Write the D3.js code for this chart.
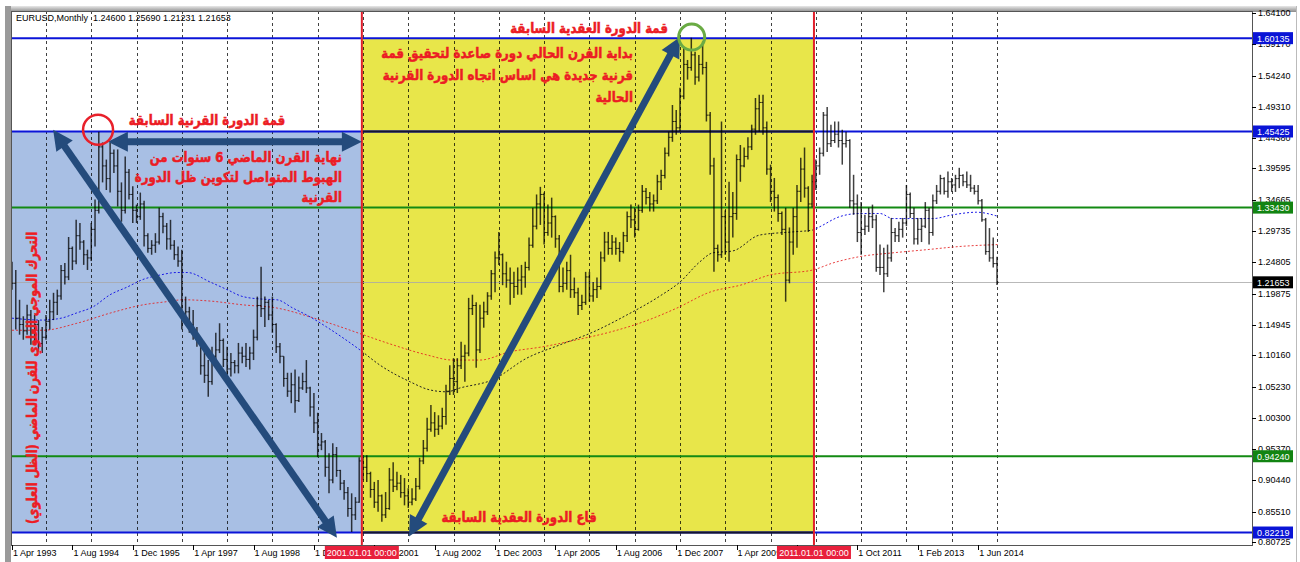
<!DOCTYPE html>
<html lang="ar">
<head>
<meta charset="utf-8">
<title>EURUSD Monthly</title>
<script src="https://d3js.org/d3.v7.min.js"></script>
<style>
    body { margin: 0; background: #fff; }
    svg { display: block; }
    .ar { font-family: "DejaVu Sans", sans-serif; font-weight: bold; fill: #ec1c24; stroke: #ec1c24; stroke-width: 0.55; }
    .small { font-family: "Liberation Sans", Arial, sans-serif; font-size: 9px; fill: #000; }
</style>
</head>
<body>
<div id="divChart"></div>
<script>

// ---- data (monthly bars, index 0 = Apr 1993) ----
const firstOpen = 1.235;
const closes = [
 1.215,1.160,1.150,1.140,1.165,1.130,1.150,1.120,1.130,1.155,
 1.170,1.185,1.195,1.235,1.225,1.270,1.250,1.290,1.280,1.260,
 1.255,1.300,1.330,1.430,1.400,1.380,1.420,1.400,1.360,1.330,
 1.390,1.355,1.330,1.320,1.340,1.290,1.270,1.275,1.280,1.320,
 1.305,1.285,1.275,1.260,1.250,1.160,1.170,1.150,1.140,1.125,
 1.085,1.070,1.060,1.100,1.110,1.125,1.095,1.080,1.090,1.085,
 1.105,1.100,1.095,1.105,1.130,1.180,1.175,1.185,1.165,1.150,
 1.115,1.100,1.065,1.045,1.055,1.030,1.050,1.060,1.050,1.020,
 0.995,0.960,0.965,0.925,0.905,0.945,0.920,0.900,0.885,0.860,
 0.850,0.870,0.935,0.925,0.915,0.890,0.870,0.880,0.850,0.860,
 0.905,0.895,0.900,0.885,0.880,0.870,0.875,0.895,0.935,0.955,
 0.985,0.995,0.985,0.990,1.005,1.045,1.065,1.060,1.085,1.100,
 1.105,1.175,1.180,1.110,1.160,1.170,1.195,1.230,1.255,1.260,
 1.230,1.220,1.215,1.210,1.220,1.225,1.240,1.275,1.305,1.340,
 1.355,1.295,1.310,1.320,1.285,1.210,1.215,1.235,1.205,1.200,
 1.180,1.185,1.225,1.195,1.205,1.210,1.255,1.280,1.270,1.280,
 1.270,1.265,1.290,1.320,1.315,1.300,1.330,1.360,1.350,1.340,
 1.345,1.375,1.385,1.420,1.445,1.470,1.460,1.510,1.560,1.555,
 1.575,1.540,1.560,1.555,1.480,1.400,1.270,1.260,1.320,1.280,
 1.320,1.325,1.410,1.400,1.415,1.430,1.458,1.490,1.500,1.460,
 1.395,1.360,1.350,1.325,1.300,1.220,1.280,1.320,1.360,1.395,
 1.365,1.340,1.375,1.400,1.420,1.480,1.435,1.440,1.450,1.440,
 1.435,1.440,1.345,1.340,1.295,1.300,1.305,1.320,1.315,1.240,
 1.240,1.230,1.255,1.295,1.290,1.300,1.310,1.355,1.325,1.285,
 1.300,1.305,1.330,1.295,1.345,1.360,1.380,1.360,1.375,1.370,
 1.380,1.385,1.375,1.370,1.365,1.360,1.345,1.315,1.265,1.255,
 1.246,1.21653];
const highs = [
 1.249,1.236,1.189,1.163,1.181,1.173,1.165,1.157,1.146,1.165,
 1.189,1.200,1.205,1.244,1.247,1.288,1.273,1.315,1.310,1.283,
 1.268,1.310,1.347,1.454,1.437,1.410,1.437,1.426,1.426,1.374,
 1.415,1.395,1.368,1.339,1.358,1.345,1.294,1.283,1.294,1.334,
 1.326,1.310,1.315,1.283,1.273,1.268,1.194,1.178,1.173,1.146,
 1.128,1.110,1.094,1.115,1.137,1.152,1.128,1.115,1.105,1.094,
 1.121,1.115,1.121,1.115,1.142,1.194,1.241,1.194,1.189,1.194,
 1.152,1.121,1.100,1.074,1.074,1.079,1.068,1.074,1.094,1.052,
 1.042,1.011,0.979,0.968,0.947,0.963,0.957,0.921,0.905,0.894,
 0.884,0.878,0.941,0.944,0.944,0.918,0.902,0.905,0.882,0.886,
 0.924,0.933,0.918,0.913,0.908,0.892,0.892,0.908,0.940,0.968,
 1.003,1.023,1.012,1.007,1.019,1.055,1.086,1.097,1.097,1.123,
 1.118,1.192,1.197,1.185,1.181,1.186,1.201,1.236,1.265,1.296,
 1.262,1.249,1.240,1.233,1.240,1.244,1.249,1.287,1.334,1.355,
 1.367,1.358,1.339,1.350,1.322,1.291,1.240,1.249,1.260,1.224,
 1.208,1.197,1.233,1.233,1.217,1.224,1.265,1.296,1.296,1.291,
 1.287,1.280,1.296,1.328,1.339,1.334,1.339,1.370,1.365,1.359,
 1.355,1.386,1.394,1.429,1.454,1.496,1.488,1.523,1.586,1.567,
 1.602,1.580,1.575,1.596,1.564,1.485,1.413,1.276,1.470,1.330,
 1.375,1.359,1.418,1.433,1.429,1.445,1.465,1.507,1.512,1.512,
 1.470,1.402,1.381,1.355,1.328,1.334,1.303,1.334,1.370,1.413,
 1.429,1.368,1.386,1.410,1.429,1.485,1.493,1.465,1.470,1.470,
 1.457,1.454,1.442,1.386,1.355,1.343,1.323,1.334,1.339,1.323,
 1.276,1.271,1.276,1.318,1.302,1.312,1.318,1.370,1.358,1.334,
 1.318,1.318,1.343,1.334,1.355,1.370,1.386,1.382,1.391,1.381,
 1.386,1.397,1.387,1.391,1.386,1.370,1.370,1.348,1.318,1.302,
 1.287,1.2569];
const lows = [
 1.205,1.142,1.134,1.126,1.134,1.118,1.118,1.107,1.105,1.126,
 1.142,1.157,1.165,1.189,1.213,1.220,1.236,1.245,1.268,1.244,
 1.236,1.250,1.273,1.325,1.374,1.362,1.358,1.389,1.336,1.312,
 1.325,1.347,1.310,1.310,1.315,1.273,1.263,1.260,1.263,1.276,
 1.294,1.268,1.268,1.252,1.241,1.142,1.155,1.137,1.126,1.115,
 1.071,1.058,1.036,1.055,1.094,1.105,1.083,1.068,1.068,1.073,
 1.073,1.089,1.083,1.079,1.094,1.125,1.162,1.146,1.157,1.137,
 1.105,1.089,1.052,1.036,1.026,1.011,1.028,1.047,1.042,1.005,
 0.979,0.941,0.952,0.910,0.884,0.900,0.910,0.889,0.874,0.847,
 0.823,0.842,0.869,0.905,0.902,0.877,0.861,0.855,0.839,0.845,
 0.858,0.886,0.889,0.877,0.865,0.861,0.865,0.872,0.890,0.930,
 0.950,0.981,0.973,0.976,0.985,0.992,1.039,1.039,1.042,1.080,
 1.060,1.100,1.165,1.082,1.105,1.145,1.165,1.189,1.201,1.244,
 1.212,1.208,1.181,1.192,1.197,1.197,1.208,1.235,1.271,1.300,
 1.307,1.276,1.290,1.287,1.271,1.201,1.201,1.205,1.192,1.192,
 1.165,1.173,1.181,1.186,1.186,1.192,1.205,1.249,1.260,1.260,
 1.260,1.249,1.262,1.280,1.302,1.287,1.298,1.326,1.339,1.328,
 1.328,1.340,1.362,1.380,1.415,1.438,1.449,1.455,1.505,1.536,
 1.550,1.528,1.533,1.544,1.470,1.386,1.233,1.249,1.255,1.260,
 1.249,1.287,1.315,1.375,1.398,1.410,1.425,1.449,1.454,1.449,
 1.386,1.343,1.328,1.312,1.291,1.186,1.215,1.260,1.271,1.343,
 1.350,1.296,1.335,1.362,1.386,1.415,1.422,1.430,1.436,1.429,
 1.402,1.429,1.334,1.323,1.280,1.260,1.291,1.296,1.302,1.233,
 1.228,1.201,1.225,1.249,1.280,1.280,1.287,1.305,1.318,1.276,
 1.276,1.280,1.302,1.276,1.290,1.340,1.355,1.355,1.350,1.359,
 1.359,1.365,1.368,1.365,1.359,1.355,1.339,1.312,1.260,1.249,
 1.240,1.21231];

// moving averages, read as [bar index, price]
const maBlue = [[0,1.160],[8,1.157],[13,1.160],[17,1.168],[21.5,1.178],[26,1.197],[30.5,1.209],
 [34.7,1.221],[39.2,1.228],[43.7,1.232],[46.4,1.232],[52.5,1.217],[57,1.205],[61.2,1.194],
 [66.5,1.190],[70.2,1.189],[74.4,1.176],[79,1.162],[83.4,1.146],[87.7,1.129],[92.2,1.110],
 [97.5,1.086],[105.4,1.060],[110.7,1.047],[115.2,1.044],[118.7,1.050],[127.4,1.063],
 [136.4,1.097],[145.2,1.118],[153.9,1.138],[162.9,1.165],[171.7,1.195],[177,1.217],
 [182.3,1.249],[185.7,1.263],[191,1.266],[198.1,1.291],[206.9,1.296],[212.2,1.299],
 [214,1.304],[219.3,1.320],[224.6,1.325],[230,1.325],[233.4,1.317],[244,1.317],
 [249.3,1.323],[255.6,1.327],[261,1.321]];
const maRed = [[0,1.141],[8.2,1.141],[17.2,1.152],[26,1.168],[34.7,1.181],[41,1.186],[45.3,1.189],
 [52.5,1.187],[61.2,1.181],[70.2,1.176],[79,1.162],[87.7,1.145],[93,1.134],[100.9,1.118],
 [110,1.102],[116.8,1.094],[124,1.094],[131.9,1.107],[140.7,1.115],[149.7,1.126],
 [158.4,1.138],[167.2,1.154],[176.2,1.176],[184.9,1.201],[193.6,1.213],[200.8,1.228],
 [212.2,1.236],[217.5,1.247],[224.6,1.257],[233.4,1.263],[242.4,1.268],[251.1,1.273],
 [261.2,1.276]];

// horizontal levels and their axis tags
const levelPrices = [1.60135, 1.45425, 1.33430, 0.94240, 0.82219];
const levelKinds  = ["blue", "blue", "green", "green", "blue"];
const lastPrice = 1.21653;

// vertical lines (bar index) and their date tags
const vlineIdx = [92.7, 212.5];
const vlineLabels = ["2001.01.01 00:00", "2011.01.01 00:00"];

// axis ticks (the Aug 2010 label sits fully under the red date tag, so it is blank)
const priceTicks = [1.64100,1.59170,1.54240,1.49310,1.44380,1.39595,1.34665,1.29735,1.24805,
 1.19875,1.14945,1.10160,1.05230,1.00300,0.95370,0.90440,0.85510,0.80725];
const xTickIdx = [0,16,32,48,64,80,96,112,128,144,160,176,192,208,224,240,256];
const xTickLabels = ["1 Apr 1993","1 Aug 1994","1 Dec 1995","1 Apr 1997","1 Aug 1998","1 Dec 1999",
 "1 Apr 2001","1 Aug 2002","1 Dec 2003","1 Apr 2005","1 Aug 2006","1 Dec 2007","1 Apr 2009",
 "","1 Oct 2011","1 Feb 2013","1 Jun 2014"];
const gridIdx = d3.range(9, 262, 12);

// annotations: arrows [i1, p1, i2, p2], circles [i, p]
const arrows = [[10.9, 1.457, 86.1, 0.814], [25.4, 1.438, 92.7, 1.438], [105.2, 0.816, 177, 1.603]];
const redCircle = [22.8, 1.457];
const greenCircle = [180.1, 1.603];
const header = "EURUSD,Monthly  1.24600 1.25690 1.21231 1.21653";

// ---- layout ----
const W = 1300, H = 562;
const plot = {l: 11, t: 11, r: 1252, b: 545};
const x = d3.scaleLinear().domain([0, 261]).range([12, 997]);
const y = d3.scaleLinear().domain([0.80725, 1.64100]).range([542, 13]);

const svg = d3.select("#divChart").append("svg").attr("width", W).attr("height", H);
const defs = svg.append("defs");
defs.append("clipPath").attr("id", "clipPlot").append("rect")
    .attr("x", plot.l).attr("y", plot.t).attr("width", plot.r - plot.l).attr("height", plot.b - plot.t);
defs.append("clipPath").attr("id", "clipYellow").append("rect")
    .attr("x", x(vlineIdx[0])).attr("y", 0).attr("width", x(vlineIdx[1]) - x(vlineIdx[0])).attr("height", H);
defs.append("clipPath").attr("id", "clipNotYellow").append("path")
    .attr("d", `M0,0H${x(vlineIdx[0])}V${H}H0Z M${x(vlineIdx[1])},0H${W}V${H}H${x(vlineIdx[1])}Z`);
const grad = defs.append("linearGradient").attr("id", "frameTop").attr("x1", 0).attr("x2", 0).attr("y1", 0).attr("y2", 1);
grad.append("stop").attr("offset", 0).attr("stop-color", "#e8e8e8");
grad.append("stop").attr("offset", 1).attr("stop-color", "#8a8a8a");

// window frame
svg.append("rect").attr("x", 5).attr("y", 6).attr("width", 1291).attr("height", 6).attr("fill", "url(#frameTop)");
svg.append("rect").attr("x", 5).attr("y", 6).attr("width", 6).attr("height", H - 6).attr("fill", "#9a9a9a");
svg.append("line").attr("x1", 1296.5).attr("x2", 1296.5).attr("y1", 6).attr("y2", H).attr("stroke", "#bbb");

const g = svg.append("g").attr("clip-path", "url(#clipPlot)");

// shaded zones
g.append("rect")
    .attr("x", plot.l).attr("width", x(vlineIdx[0]) - plot.l)
    .attr("y", y(levelPrices[1])).attr("height", y(levelPrices[4]) - y(levelPrices[1]))
    .attr("fill", "#a8bfe4");
g.append("rect")
    .attr("x", x(vlineIdx[0])).attr("width", x(vlineIdx[1]) - x(vlineIdx[0]))
    .attr("y", y(levelPrices[0])).attr("height", y(levelPrices[4]) - y(levelPrices[0]) + 1)
    .attr("fill", "#e8e64a");

// grid
g.selectAll(".grid").data(gridIdx).enter().append("line")
    .attr("x1", d => Math.round(x(d)) + 0.5).attr("x2", d => Math.round(x(d)) + 0.5)
    .attr("y1", plot.t).attr("y2", plot.b)
    .attr("stroke", "#000").attr("stroke-opacity", 0.75).attr("stroke-dasharray", "3,3");

// current price line
g.append("line").attr("x1", plot.l).attr("x2", plot.r)
    .attr("y1", Math.round(y(lastPrice)) + 0.5).attr("y2", Math.round(y(lastPrice)) + 0.5)
    .attr("stroke", "#a8a8a8").attr("stroke-opacity", 0.8);

// horizontal levels
const lvlColor = {blue: "#0b14d8", green: "#138a13"};
levelPrices.forEach((p, k) => {
    g.append("line").attr("x1", plot.l).attr("x2", plot.r).attr("y1", y(p)).attr("y2", y(p))
        .attr("stroke", lvlColor[levelKinds[k]]).attr("stroke-width", 2);
    if (levelKinds[k] == "blue" && k > 0) {
        g.append("line").attr("x1", x(vlineIdx[0])).attr("x2", x(vlineIdx[1])).attr("y1", y(p)).attr("y2", y(p))
            .attr("stroke", "#141432").attr("stroke-width", 2);
    }
});

// moving averages
const maLine = d3.line().x(d => x(d[0])).y(d => y(d[1])).curve(d3.curveMonotoneX);
g.append("path").attr("d", maLine(maRed)).attr("fill", "none")
    .attr("stroke", "#e41e1e").attr("stroke-width", 1).attr("stroke-dasharray", "2,2").attr("stroke-opacity", 0.85);
g.append("g").attr("clip-path", "url(#clipNotYellow)").append("path").attr("d", maLine(maBlue))
    .attr("fill", "none").attr("stroke", "#1a1ae6").attr("stroke-width", 1).attr("stroke-dasharray", "2,2");
g.append("g").attr("clip-path", "url(#clipYellow)").append("path").attr("d", maLine(maBlue))
    .attr("fill", "none").attr("stroke", "#222").attr("stroke-width", 1).attr("stroke-dasharray", "2,2");

// OHLC bars
const bars = closes.map((c, i) => ({i: i, o: i == 0 ? firstOpen : closes[i - 1], h: highs[i], l: lows[i], c: c}));
const bg = g.append("g").attr("stroke", "#000").attr("stroke-opacity", 0.75).attr("stroke-width", 1.5);
bars.forEach(d => {
    const cx = x(d.i);
    bg.append("line").attr("x1", cx).attr("x2", cx).attr("y1", y(d.h)).attr("y2", y(d.l));
    bg.append("line").attr("x1", cx - 1.8).attr("x2", cx).attr("y1", y(d.o)).attr("y2", y(d.o)).attr("stroke-width", 1);
    bg.append("line").attr("x1", cx).attr("x2", cx + 1.8).attr("y1", y(d.c)).attr("y2", y(d.c)).attr("stroke-width", 1);
});

// red vertical lines
vlineIdx.forEach(v => {
    g.append("line").attr("x1", x(v)).attr("x2", x(v)).attr("y1", plot.t).attr("y2", plot.b)
        .attr("stroke", "#e0202c").attr("stroke-width", 2);
});

// arrows
const arrowColor = "#244b7c";
function arrow(a) {
    const x1 = x(a[0]), y1 = y(a[1]), x2 = x(a[2]), y2 = y(a[3]);
    const len = Math.hypot(x2 - x1, y2 - y1), ux = (x2 - x1) / len, uy = (y2 - y1) / len;
    const hl = 20, hw = 10;
    g.append("line").attr("x1", x1 + ux * hl * 0.8).attr("y1", y1 + uy * hl * 0.8)
        .attr("x2", x2 - ux * hl * 0.8).attr("y2", y2 - uy * hl * 0.8)
        .attr("stroke", arrowColor).attr("stroke-width", 7);
    [[x2, y2, 1], [x1, y1, -1]].forEach(t => {
        const bx = t[0] - ux * hl * t[2], by = t[1] - uy * hl * t[2];
        g.append("path")
            .attr("d", `M${t[0]},${t[1]}L${bx - uy * hw},${by + ux * hw}L${bx + uy * hw},${by - ux * hw}Z`)
            .attr("fill", arrowColor);
    });
}
arrows.forEach(arrow);

// circles
g.append("circle").attr("cx", x(redCircle[0])).attr("cy", y(redCircle[1])).attr("r", 15)
    .attr("fill", "none").attr("stroke", "#e8202a").attr("stroke-width", 2.5);
g.append("circle").attr("cx", x(greenCircle[0])).attr("cy", y(greenCircle[1])).attr("r", 13)
    .attr("fill", "none").attr("stroke", "#6aab44").attr("stroke-width", 3);

// arabic notes; DejaVu is wide, so squeeze it horizontally
const sqz = 0.84;
function note(lines, xr, y0, dy, anchor) {
    lines.forEach((t, k) => {
        svg.append("g").attr("transform", `translate(${xr},${y0 + k * dy}) scale(${sqz},1)`)
            .append("text").attr("class", "ar").attr("direction", "rtl")
            .attr("font-size", 14).attr("text-anchor", anchor).text(t);
    });
}
note(["قمة الدورة القرنية السابقة"], 207, 125, 0, "middle");
note(["نهاية القرن الماضي 6 سنوات من", "الهبوط المتواصل لتكوين ظل الدورة", "القرنية"], 342, 162, 20, "start");
note(["قمة الدورة العقدية السابقة"], 589, 33, 0, "middle");
note(["بداية القرن الحالي دورة صاعدة لتحقيق قمة", "قرنية جديدة هي اساس اتجاه الدورة القرنية", "الحالية"], 633, 58, 22, "start");
note(["قاع الدورة العقدية السابقة"], 519, 522, 0, "middle");
svg.append("g").attr("transform", `translate(32,378) rotate(-90) scale(${sqz * 0.96},1)`)
    .append("text").attr("class", "ar").attr("direction", "rtl").attr("font-size", 14)
    .attr("text-anchor", "middle").attr("dominant-baseline", "central")
    .text("التحرك الموجي العلوي للقرن الماضي (الظل العلوي)");

// header
svg.append("text").attr("class", "small").attr("x", 16).attr("y", 21).attr("xml:space", "preserve").text(header);

// frame
svg.append("rect").attr("x", plot.l + 0.5).attr("y", plot.t + 0.5)
    .attr("width", plot.r - plot.l).attr("height", plot.b - plot.t)
    .attr("fill", "none").attr("stroke", "#555");

// price axis
const pa = svg.append("g");
priceTicks.forEach(p => {
    pa.append("line").attr("x1", plot.r).attr("x2", plot.r + 4).attr("y1", Math.round(y(p)) + 0.5).attr("y2", Math.round(y(p)) + 0.5).attr("stroke", "#000");
    pa.append("text").attr("class", "small").attr("x", plot.r + 6).attr("y", y(p) + 3).text(p.toFixed(5));
});
const tagFill = {blue: "#0a14d6", green: "#128412", last: "#000"};
levelPrices.concat([lastPrice]).forEach((p, k) => {
    const kind = k < levelPrices.length ? levelKinds[k] : "last";
    pa.append("rect").attr("x", plot.r + 1).attr("y", y(p) - 6).attr("width", 40).attr("height", 12).attr("fill", tagFill[kind]);
    pa.append("text").attr("class", "small").attr("x", plot.r + 5).attr("y", y(p) + 3.5).style("fill", "#fff").text(p.toFixed(5));
});

// time axis
const ta = svg.append("g");
xTickIdx.forEach((v, k) => {
    ta.append("line").attr("x1", Math.round(x(v)) + 0.5).attr("x2", Math.round(x(v)) + 0.5).attr("y1", plot.b).attr("y2", plot.b + 5).attr("stroke", "#000");
    if (xTickLabels[k]) ta.append("text").attr("class", "small").attr("x", x(v) + 1).attr("y", 556).text(xTickLabels[k]);
});
vlineIdx.forEach((v, k) => {
    ta.append("rect").attr("x", x(v) - 37).attr("y", 546).attr("width", 74).attr("height", 13).attr("fill", "#e8203c");
    ta.append("text").attr("class", "small").attr("x", x(v)).attr("y", 556).attr("text-anchor", "middle").style("fill", "#fff").text(vlineLabels[k]);
});

</script>
</body>
</html>
